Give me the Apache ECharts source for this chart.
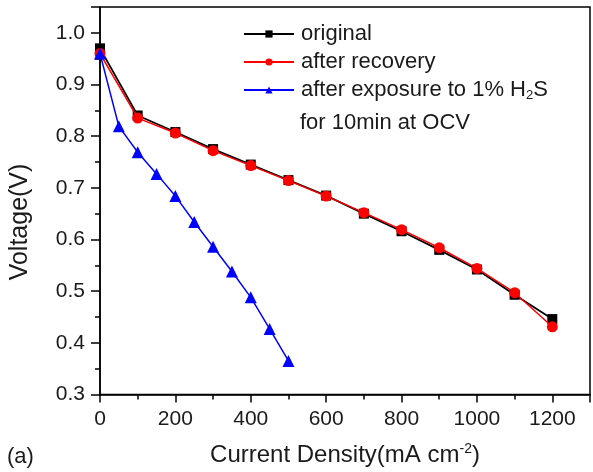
<!DOCTYPE html>
<html><head><meta charset="utf-8">
<script src="https://cdn.jsdelivr.net/npm/echarts@6/dist/echarts.min.js"></script>
<style>html,body{margin:0;padding:0;background:#fff}#c{width:593px;height:472px}</style>
</head><body><div id="c"></div>
<script>
const currentDensity = [0, 100, 200, 300, 400, 500, 600, 700, 800, 900, 1000, 1100, 1200];
const original = [0.970, 0.840, 0.808, 0.775, 0.745, 0.715, 0.685, 0.650, 0.616, 0.580, 0.542, 0.493, 0.446];
const afterRecovery = [0.960, 0.835, 0.806, 0.772, 0.743, 0.714, 0.684, 0.652, 0.619, 0.584, 0.544, 0.497, 0.431];
const h2sCurrent = [0, 50, 100, 150, 200, 250, 300, 350, 400, 450, 500];
const afterH2S = [0.960, 0.819, 0.769, 0.727, 0.684, 0.634, 0.586, 0.538, 0.488, 0.427, 0.365];
const seriesNames = ['original', 'after recovery', 'after exposure to 1% H2S'];
const xTicks = [0, 200, 400, 600, 800, 1000, 1200];
const yTicks = [0.3, 0.4, 0.5, 0.6, 0.7, 0.8, 0.9, 1.0];

const zip = (xs, ys) => xs.map((x, i) => [x, ys[i]]);
const font = 'Liberation Sans, Arial, sans-serif';
const txt = '#1a1a1a';
const chart = echarts.init(document.getElementById('c'));
chart.setOption({
  animation: false,
  grid: {left: 100, top: 7, right: -1, bottom: 76, show: true, borderColor: '#000', borderWidth: 1.5},
  legend: {
    orient: 'vertical', left: 243, top: 23, padding: 0, itemWidth: 50, itemHeight: 9, itemGap: 6,
    textStyle: {fontFamily: font, fontSize: 22, color: txt, padding: [0, 0, 0, 2],
      rich: {sub: {fontSize: 13, verticalAlign: 'bottom', padding: [11, 0, 0, 0], fontFamily: font, color: txt},
             n: {fontFamily: font, fontSize: 22, color: txt}}},
    formatter: function (name) {
      if (name === seriesNames[2]) return '{n|after exposure to 1% H}{sub|2}{n|S}';
      return name;
    },
    data: seriesNames
  },
  graphic: [
    {type: 'text', left: 300, top: 112, style: {text: 'for 10min at OCV', font: '22px ' + font, fill: txt}},
    {type: 'text', left: 7, top: 446, style: {text: '(a)', font: '22px ' + font, fill: txt}},
    {type: 'text', x: 20, y: 222, rotation: Math.PI / 2,
      style: {text: 'Voltage(V)', font: '25px ' + font, fill: txt, align: 'center', verticalAlign: 'middle'}}
  ],
  xAxis: {
    type: 'value', min: 0, max: 1300, interval: 200,
    name: 'Current Density(mA cm{sup|-2})', nameLocation: 'middle', nameGap: 48,
    nameTextStyle: {fontFamily: font, fontSize: 24, color: txt,
      rich: {sup: {fontSize: 14, verticalAlign: 'top', padding: [0, 0, 11, 0], fontFamily: font, color: txt}}},
    axisLine: {lineStyle: {color: '#000', width: 1.5}},
    axisTick: {show: true, inside: false, length: 8, lineStyle: {color: '#000', width: 1.5}},
    minorTick: {show: true, splitNumber: 2, length: 5, lineStyle: {color: '#000', width: 1.5}},
    splitLine: {show: false},
    axisLabel: {fontFamily: font, fontSize: 21, color: txt, margin: 14,
      formatter: v => xTicks.includes(v) ? String(v) : ''}
  },
  yAxis: {
    type: 'value', min: 0.3, max: 1.05, interval: 0.1,
    axisLine: {lineStyle: {color: '#000', width: 1.5}},
    axisTick: {show: true, inside: false, length: 9, lineStyle: {color: '#000', width: 1.5}},
    minorTick: {show: true, splitNumber: 2, length: 5, lineStyle: {color: '#000', width: 1.5}},
    splitLine: {show: false},
    axisLabel: {fontFamily: font, fontSize: 21, color: txt, margin: 15,
      formatter: v => { const t = yTicks.find(k => Math.abs(k - v) < 1e-6); return t !== undefined ? t.toFixed(1) : ''; }}
  },
  series: [
    {name: seriesNames[0], type: 'line', data: zip(currentDensity, original), symbol: 'rect', symbolSize: 10,
      itemStyle: {color: '#000'}, lineStyle: {color: '#000', width: 1.8}, z: 2},
    {name: seriesNames[1], type: 'line', data: zip(currentDensity, afterRecovery), symbol: 'circle', symbolSize: 11,
      itemStyle: {color: '#ff0000'}, lineStyle: {color: '#ff0000', width: 1.5}, z: 3},
    {name: seriesNames[2], type: 'line', data: zip(h2sCurrent, afterH2S), symbol: 'triangle', symbolSize: 12,
      itemStyle: {color: '#0000ff'}, lineStyle: {color: '#0000ff', width: 1.5}, z: 4}
  ]
});
</script></body></html>
